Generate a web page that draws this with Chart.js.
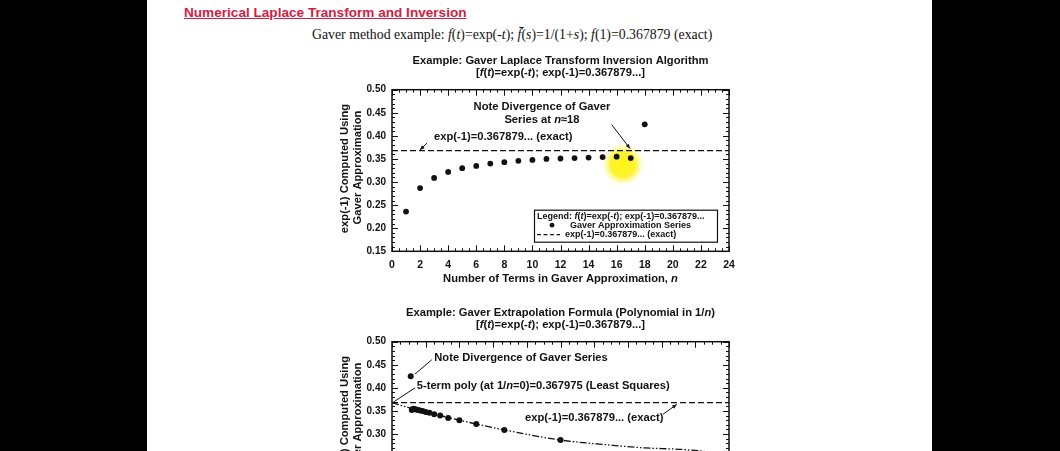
<!DOCTYPE html>
<html>
<head>
<meta charset="utf-8">
<script src="https://cdn.jsdelivr.net/npm/chart.js@4.4.1/dist/chart.umd.min.js"></script>
<style>
  html, body { margin: 0; padding: 0; background: #000; width: 1060px; height: 451px; overflow: hidden; }
  #page { position: absolute; left: 147px; top: 0; width: 785px; height: 451px; background: #fff; }
  .hdr { position: absolute; left: 184px; top: 5px; font: bold 13.6px "Liberation Sans", Arial, sans-serif;
         color: #d3203f; text-decoration: underline; white-space: nowrap; }
  .sub { position: absolute; left: 312px; top: 27px; font: 13.8px "Liberation Serif", "Times New Roman", serif;
         color: #111; white-space: nowrap; }
  .box { position: absolute; left: 300px; width: 460px; height: 245px; }
</style>
</head>
<body>
<div id="page"></div>
<div class="hdr">Numerical Laplace Transform and Inversion</div>
<div class="sub">Gaver method example: <i>f</i>(<i>t</i>)=exp(-<i>t</i>); <i>f&#772;</i>(<i>s</i>)=1/(1+<i>s</i>); <i>f</i>(1)=0.367879 (exact)</div>
<div class="box" style="top:45px"><canvas id="gaverChart"></canvas></div>
<div class="box" style="top:297px"><canvas id="extrapChart"></canvas></div>

<script>
// values
const termsN = [1, 2, 3, 4, 5, 6, 7, 8, 9, 10, 11, 12, 13, 14, 15, 16, 17, 18];
const gaverValues = [0.236, 0.287, 0.309, 0.322, 0.330, 0.335, 0.340, 0.343, 0.346, 0.348,
                     0.350, 0.351, 0.352, 0.353, 0.354, 0.355, 0.352, 0.425];
const exactValue = 0.367879;

// 5-term polynomial fit (chart 2)
const polyX = [0, 0.05, 0.1, 0.2, 0.333, 0.5, 0.65, 0.75, 0.85, 0.93, 1.0];
const polyY = [0.368, 0.357, 0.348, 0.330, 0.309, 0.287, 0.276, 0.270, 0.267, 0.262, 0.252];

const yTicks = [0.15, 0.20, 0.25, 0.30, 0.35, 0.40, 0.45, 0.50];
const xTicksN = [0, 2, 4, 6, 8, 10, 12, 14, 16, 18, 20, 22, 24];
const xTicksInv = [0, 0.2, 0.4, 0.6, 0.8, 1.0];

const INK = '#111';
const TXT = 11.2;

function fontOf(italic, size) {
    return (italic ? 'italic ' : '') + 'bold ' + size + 'px "Liberation Sans", Arial, sans-serif';
}

// text with *italic* segments
function richText(ctx, str, x, y, align, size) {
    const parts = str.split('*');
    let w = 0;
    parts.forEach((p, i) => { ctx.font = fontOf(i % 2, size); w += ctx.measureText(p).width; });
    let cx = align === 'center' ? x - w / 2 : (align === 'right' ? x - w : x);
    ctx.textAlign = 'left';
    ctx.textBaseline = 'middle';
    ctx.fillStyle = INK;
    parts.forEach((p, i) => {
        ctx.font = fontOf(i % 2, size);
        ctx.fillText(p, cx, y);
        cx += ctx.measureText(p).width;
    });
}

function arrowLine(ctx, x1, y1, x2, y2, head) {
    ctx.beginPath();
    ctx.moveTo(x1, y1);
    ctx.lineTo(x2, y2);
    ctx.stroke();
    if (!head) return;
    const a = Math.atan2(y2 - y1, x2 - x1);
    ctx.beginPath();
    ctx.moveTo(x2, y2);
    ctx.lineTo(x2 - 5 * Math.cos(a - 0.4), y2 - 5 * Math.sin(a - 0.4));
    ctx.lineTo(x2 - 5 * Math.cos(a + 0.4), y2 - 5 * Math.sin(a + 0.4));
    ctx.closePath();
    ctx.fill();
}

/**
 * Frame with inward ticks, titles, notes and legend
 */
function makeDecor(cfg) {
    return {
        id: 'decor',
        beforeDatasetsDraw(chart) {
            if (!cfg.glow) return;
            const { ctx, scales } = chart;
            const cx = scales.x.getPixelForValue(cfg.glow.x);
            const cy = scales.y.getPixelForValue(cfg.glow.y);
            const g = ctx.createRadialGradient(cx, cy, 0, cx, cy, cfg.glow.r);
            g.addColorStop(0, 'rgba(255,245,20,1)');
            g.addColorStop(0.6, 'rgba(255,242,30,0.9)');
            g.addColorStop(1, 'rgba(255,250,120,0)');
            ctx.save();
            ctx.fillStyle = g;
            ctx.beginPath();
            ctx.arc(cx, cy, cfg.glow.r, 0, Math.PI * 2);
            ctx.fill();
            ctx.restore();
        },
        afterDatasetsDraw(chart) {
            const { ctx, chartArea: a, scales } = chart;
            const sx = v => scales.x.getPixelForValue(v);
            const sy = v => scales.y.getPixelForValue(v);
            ctx.save();
            ctx.strokeStyle = INK;
            ctx.fillStyle = INK;

            // frame
            ctx.lineWidth = 1.5;
            ctx.strokeRect(a.left, a.top, a.right - a.left, a.bottom - a.top);

            // inward ticks on all four sides
            ctx.lineWidth = 1;
            const tickX = (step, len) => {
                for (let v = scales.x.min; v <= scales.x.max + 1e-9; v += step) {
                    const p = Math.round(sx(v)) + 0.5;
                    ctx.beginPath();
                    ctx.moveTo(p, a.bottom); ctx.lineTo(p, a.bottom - len);
                    ctx.moveTo(p, a.top); ctx.lineTo(p, a.top + len);
                    ctx.stroke();
                }
            };
            const tickY = (step, len) => {
                for (let v = scales.y.min; v <= scales.y.max + 1e-9; v += step) {
                    const p = Math.round(sy(v)) + 0.5;
                    ctx.beginPath();
                    ctx.moveTo(a.left, p); ctx.lineTo(a.left + len, p);
                    ctx.moveTo(a.right, p); ctx.lineTo(a.right - len, p);
                    ctx.stroke();
                }
            };
            tickX(cfg.xMinor, 3);
            tickX(cfg.xMajor, 6);
            tickY(0.01, 3);
            tickY(0.05, 6);

            // chart titles
            const mid = (a.left + a.right) / 2;
            richText(ctx, cfg.title[0], mid, a.top - 29, 'center', TXT);
            richText(ctx, cfg.title[1], mid, a.top - 16.5, 'center', TXT);

            // axis titles
            if (cfg.xTitle) richText(ctx, cfg.xTitle, mid, a.bottom + 28, 'center', TXT);
            ctx.save();
            ctx.translate(a.left - 47, (a.top + a.bottom) / 2 - 2);
            ctx.rotate(-Math.PI / 2);
            richText(ctx, 'exp(-1) Computed Using', 0, 0, 'center', TXT);
            ctx.restore();
            ctx.save();
            ctx.translate(a.left - 34.5, (a.top + a.bottom) / 2 - 3);
            ctx.rotate(-Math.PI / 2);
            richText(ctx, 'Gaver Approximation', 0, 0, 'center', TXT);
            ctx.restore();

            // notes and leader lines
            ctx.lineWidth = 1;
            cfg.notes.forEach(n => richText(ctx, n.text, sx(n.x), sy(n.y), n.align, TXT));
            cfg.leaders.forEach(l => arrowLine(ctx, sx(l.x1), sy(l.y1), sx(l.x2), sy(l.y2), l.head));

            // legend box
            if (cfg.legend) {
                const L = cfg.legend;
                const bx = a.left + L.left, by = a.top + L.top;
                ctx.fillStyle = '#fff';
                ctx.fillRect(bx, by, L.width, L.height);
                ctx.lineWidth = 1.2;
                ctx.strokeRect(bx + 0.5, by + 0.5, L.width, L.height);
                richText(ctx, L.head, bx + 3, by + 6.5, 'left', 9);
                const ds0 = chart.data.datasets[0], ds1 = chart.data.datasets[1];
                ctx.fillStyle = ds0.backgroundColor;
                ctx.beginPath();
                ctx.arc(bx + 18, by + 15.5, 2.4, 0, Math.PI * 2);
                ctx.fill();
                richText(ctx, ds0.label, bx + 36, by + 15.5, 'left', 9);
                ctx.strokeStyle = ds1.borderColor;
                ctx.setLineDash([4, 2.5]);
                ctx.beginPath();
                ctx.moveTo(bx + 3, by + 25); ctx.lineTo(bx + 26, by + 25);
                ctx.stroke();
                ctx.setLineDash([]);
                richText(ctx, ds1.label, bx + 31, by + 25, 'left', 9);
            }
            ctx.restore();
        }
    };
}

function buildChart(id, cfg) {
    const ctx = document.getElementById(id);
    return new Chart(ctx, {
        type: 'scatter',
        data: { datasets: cfg.datasets },
        options: {
            responsive: true,
            maintainAspectRatio: false,
            animation: false,
            events: [],
            layout: { padding: { left: 52, right: 31, top: 44.7, bottom: 13.7 } },
            plugins: { legend: { display: false }, tooltip: { enabled: false } },
            scales: {
                x: {
                    type: 'linear', min: cfg.xMin, max: cfg.xMax,
                    grid: { display: false, drawTicks: false },
                    border: { display: false },
                    afterBuildTicks: s => { s.ticks = cfg.xTicks.map(v => ({ value: v })); },
                    afterFit: s => { s.height = 25; },
                    ticks: {
                        padding: 8, color: INK, maxRotation: 0,
                        font: { family: '"Liberation Sans", Arial, sans-serif', size: 10.5, weight: 'bold' },
                        callback: v => cfg.xFmt(v)
                    }
                },
                y: {
                    type: 'linear', min: 0.15, max: 0.50,
                    grid: { display: false, drawTicks: false },
                    border: { display: false },
                    afterBuildTicks: s => { s.ticks = yTicks.map(v => ({ value: v })); },
                    afterFit: s => { s.width = 40; },
                    ticks: {
                        padding: 6, color: INK,
                        font: { family: '"Liberation Sans", Arial, sans-serif', size: 10, weight: 'bold' },
                        callback: v => v.toFixed(2)
                    }
                }
            }
        },
        plugins: [makeDecor(cfg)]
    });
}

// Chart 1: Gaver series against n
buildChart('gaverChart', {
    xMin: 0, xMax: 24, xTicks: xTicksN, xFmt: v => String(v), xMajor: 2, xMinor: 0.5,
    title: ['Example: Gaver Laplace Transform Inversion Algorithm',
            '[*f*(*t*)=exp(-*t*); exp(-1)=0.367879...]'],
    xTitle: 'Number of Terms in Gaver Approximation, *n*',
    glow: { x: 16.45, y: 0.338, r: 21 },
    datasets: [
        {
            label: 'Gaver Approximation Series',
            data: termsN.map((n, i) => ({ x: n, y: gaverValues[i] })),
            backgroundColor: INK, borderWidth: 0, pointRadius: 2.9
        },
        {
            type: 'line',
            label: 'exp(-1)=0.367879... (exact)',
            data: [{ x: 0, y: exactValue }, { x: 24, y: exactValue }],
            borderColor: INK, borderWidth: 1.2, borderDash: [6, 3], pointRadius: 0
        }
    ],
    notes: [
        { text: 'Note Divergence of Gaver', x: 10.68, y: 0.462, align: 'center' },
        { text: 'Series at *n*\u224818', x: 10.68, y: 0.4356, align: 'center' },
        { text: 'exp(-1)=0.367879... (exact)', x: 2.99, y: 0.3985, align: 'left' }
    ],
    leaders: [
        { x1: 15.65, y1: 0.4242, x2: 16.95, y2: 0.3725, head: true },
        { x1: 2.5, y1: 0.3845, x2: 1.99, y2: 0.3695, head: true }
    ],
    legend: {
        left: 142, top: 120, width: 183, height: 32,
        head: 'Legend: *f*(*t*)=exp(-*t*); exp(-1)=0.367879...'
    }
});

// Chart 2: same series against 1/n with polynomial extrapolation
buildChart('extrapChart', {
    xMin: 0, xMax: 1, xTicks: xTicksInv, xFmt: v => v.toFixed(1), xMajor: 0.1, xMinor: 0.025,
    title: ['Example: Gaver Extrapolation Formula (Polynomial in 1/*n*)',
            '[*f*(*t*)=exp(-*t*); exp(-1)=0.367879...]'],
    xTitle: null,
    datasets: [
        {
            label: 'Gaver Approximation Series',
            data: termsN.map((n, i) => ({ x: 1 / n, y: gaverValues[i] })),
            backgroundColor: INK, borderWidth: 0, pointRadius: 3
        },
        {
            type: 'line',
            label: 'exp(-1)=0.367879... (exact)',
            data: [{ x: 0, y: exactValue }, { x: 1, y: exactValue }],
            borderColor: INK, borderWidth: 1.2, borderDash: [6, 3], pointRadius: 0
        },
        {
            type: 'line',
            label: '5-term poly',
            data: polyX.map((x, i) => ({ x: x, y: polyY[i] })),
            borderColor: INK, borderWidth: 1.3, borderDash: [7, 2, 1.5, 2, 1.5, 2],
            pointRadius: 0, cubicInterpolationMode: 'monotone'
        }
    ],
    notes: [
        { text: 'Note Divergence of Gaver Series', x: 0.1255, y: 0.4644, align: 'left' },
        { text: '5-term poly (at 1/*n*=0)=0.367975 (Least Squares)', x: 0.0733, y: 0.4034, align: 'left' },
        { text: 'exp(-1)=0.367879... (exact)', x: 0.3947, y: 0.3341, align: 'left' }
    ],
    leaders: [
        { x1: 0.1178, y1: 0.4607, x2: 0.0682, y2: 0.430, head: false },
        { x1: 0.0682, y1: 0.400, x2: 0.0039, y2: 0.3691, head: false },
        { x1: 0.804, y1: 0.3427, x2: 0.845, y2: 0.3642, head: true }
    ]
});
</script>
</body>
</html>
